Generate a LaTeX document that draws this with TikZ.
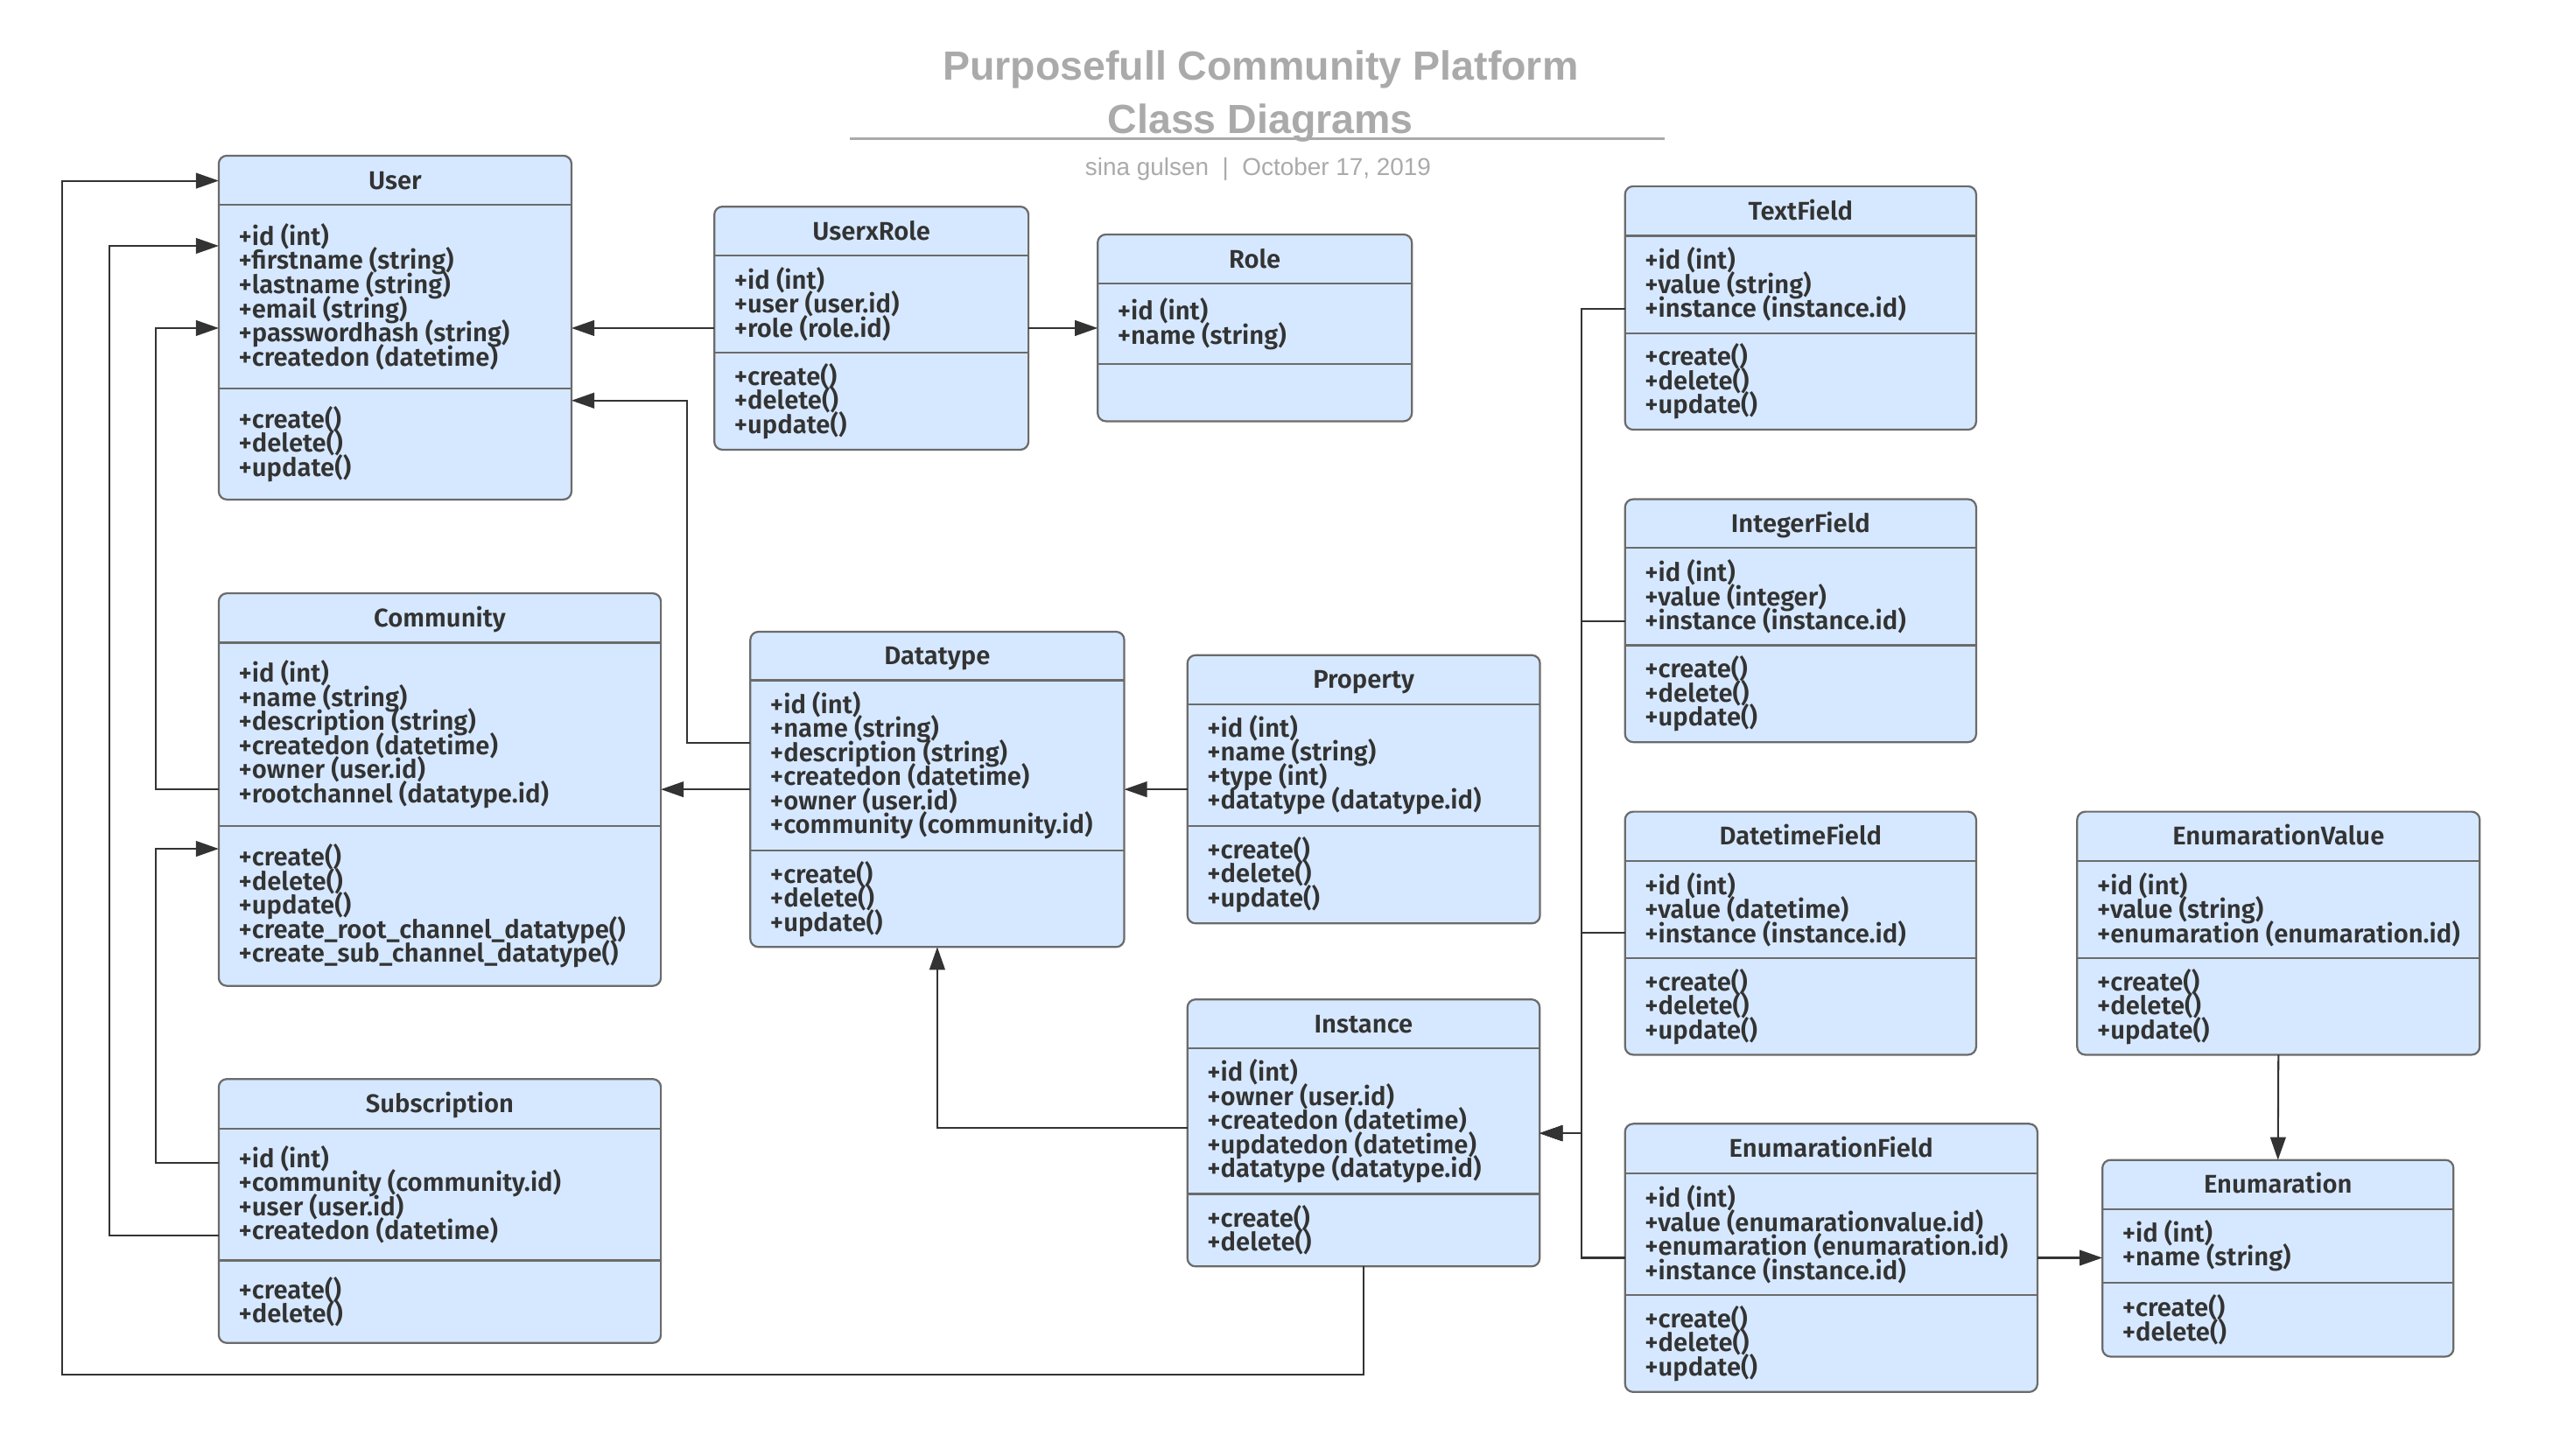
\documentclass[tikz,border=0pt]{standalone}
\usepackage{fontspec}
\usetikzlibrary{arrows.meta}
\newfontfamily\umlfont{Fira Sans}[UprightFont=* SemiBold]
\newfontfamily\hdrfont{Liberation Sans}
\definecolor{boxfill}{HTML}{D6E8FF}
\definecolor{boxline}{HTML}{6B6B6B}
\definecolor{connc}{HTML}{333333}
\definecolor{txt}{HTML}{333333}
\definecolor{hdrgray}{HTML}{AAAAAA}
% #1 name, #2 left, #3 top, #4 right, #5 header bottom, #6 divider, #7 bottom
\newcommand\umlbox[7]{%
  \node[classbox, minimum width={#4-#2}, minimum height={#7-#3}] (#1) at (#2,#3) {};
  \draw[divider] (#2,#5) -- (#4,#5);
  \draw[divider] (#2,#6) -- (#4,#6);
  \coordinate (#1-t) at ({(#2+#4)/2},{(#3+#5)/2});
  \coordinate (#1-a) at ({#2+12},{(#5+#6)/2});
  \coordinate (#1-m) at ({#2+12},{(#6+#7)/2});
}
\newcommand\umltext[4]{%
  \node[cname] (#1-title) at (#1-t) {#2};
  \node[ctext] (#1-attrs) at (#1-a) {#3};
  \node[ctext] (#1-meths) at (#1-m) {#4};
}
\begin{document}
\begin{tikzpicture}[x=1pt,y=-1pt,
  classbox/.style={draw=boxline, fill=boxfill, line width=1.2pt, rounded corners=5pt, inner sep=0pt, outer sep=0pt, anchor=north west},
  divider/.style={draw=boxline, line width=1.2pt},
  conn/.style={draw=connc, line width=1.1pt, -{Triangle[length=14pt,width=9.5pt]}},
  ctext/.style={anchor=west, align=left, inner sep=0pt, text=txt, font=\umlfont\fontsize{15.7}{14.8}\selectfont,
    execute at begin node={\lineskiplimit=-50pt\lineskip=0pt}},
  cname/.style={inner sep=0pt, text=txt, text height=10.8pt, text depth=0pt, font=\umlfont\fontsize{15.7}{14.8}\selectfont},
  hdr/.style={inner sep=0pt, anchor=base, text=hdrgray, font=\hdrfont\bfseries\fontsize{25}{30}\selectfont},
  sub/.style={inner sep=0pt, anchor=base, text=hdrgray, font=\hdrfont\fontsize{15}{18}\selectfont},
  rulestyle/.style={draw=hdrgray, line width=1.6pt}
]
\useasboundingbox (0,0) rectangle (1567.6,893.7);

% header
\node[hdr] (title1) at (774,49) {Purposefull Community Platform};
\node[hdr] (title2) at (774,82) {Class Diagrams};
\coordinate (ruleL) at (522,85.3);
\coordinate (ruleR) at (1022,85.3);
\draw[rulestyle] (ruleL) -- (ruleR);
\node[sub] (subtitle) at (772.5,108) {sina gulsen\ \ |\ \ October 17, 2019};

% boxes
\umlbox{user}{134.3}{95.6}{350.9}{125.8}{238.6}{306.8}
\umltext{user}{User}{+id (int)\\+firstname (string)\\+lastname (string)\\+email (string)\\+passwordhash (string)\\+createdon (datetime)}{+create()\\+delete()\\+update()}

\umlbox{uxr}{438.6}{126.9}{631.5}{157}{216.6}{276.2}
\umltext{uxr}{UserxRole}{+id (int)\\+user (user.id)\\+role (role.id)}{+create()\\+delete()\\+update()}

\umlbox{role}{674}{144}{866.9}{174.2}{223.7}{258.7}
\node[cname] (role-title) at (role-t) {Role};
\node[ctext] (role-attrs) at (role-a) {+id (int)\\+name (string)};

\umlbox{textf}{997.8}{114.4}{1213.4}{144.8}{204.7}{263.9}
\umltext{textf}{TextField}{+id (int)\\+value (string)\\+instance (instance.id)}{+create()\\+delete()\\+update()}

\umlbox{intf}{997.8}{306.6}{1213.4}{336.6}{396.3}{455.8}
\umltext{intf}{IntegerField}{+id (int)\\+value (integer)\\+instance (instance.id)}{+create()\\+delete()\\+update()}

\umlbox{dtf}{997.8}{498.5}{1213.4}{528.6}{588.5}{647.8}
\umltext{dtf}{DatetimeField}{+id (int)\\+value (datetime)\\+instance (instance.id)}{+create()\\+delete()\\+update()}

\umlbox{enumv}{1275.4}{498.5}{1522.6}{528.6}{588.5}{647.8}
\umltext{enumv}{EnumarationValue}{+id (int)\\+value (string)\\+enumaration (enumaration.id)}{+create()\\+delete()\\+update()}

\umlbox{comm}{134.3}{364.4}{405.8}{394.7}{507.3}{605.5}
\umltext{comm}{Community}{+id (int)\\+name (string)\\+description (string)\\+createdon (datetime)\\+owner (user.id)\\+rootchannel (datatype.id)}{+create()\\+delete()\\+update()\\+create\_root\_channel\_datatype()\\+create\_sub\_channel\_datatype()}

\umlbox{dtype}{460.7}{388}{690.3}{417.8}{522.5}{581.6}
\umltext{dtype}{Datatype}{+id (int)\\+name (string)\\+description (string)\\+createdon (datetime)\\+owner (user.id)\\+community (community.id)}{+create()\\+delete()\\+update()}

\umlbox{prop}{729.1}{402.4}{945.6}{432.5}{507.2}{567.1}
\umltext{prop}{Property}{+id (int)\\+name (string)\\+type (int)\\+datatype (datatype.id)}{+create()\\+delete()\\+update()}

\umlbox{inst}{729.1}{613.8}{945.4}{644}{733.3}{777.8}
\umltext{inst}{Instance}{+id (int)\\+owner (user.id)\\+createdon (datetime)\\+updatedon (datetime)\\+datatype (datatype.id)}{+create()\\+delete()}

\umlbox{subs}{134.3}{662.7}{405.8}{693.2}{774.1}{824.8}
\umltext{subs}{Subscription}{+id (int)\\+community (community.id)\\+user (user.id)\\+createdon (datetime)}{+create()\\+delete()}

\umlbox{enumf}{997.8}{690.2}{1251}{720.8}{795.3}{854.9}
\umltext{enumf}{EnumarationField}{+id (int)\\+value (enumarationvalue.id)\\+enumaration (enumaration.id)\\+instance (instance.id)}{+create()\\+delete()\\+update()}

\umlbox{enums}{1290.9}{712.4}{1506.5}{742.5}{787.7}{833.2}
\umltext{enums}{Enumaration}{+id (int)\\+name (string)}{+create()\\+delete()}

% connectors
\draw[conn] (uxr.west |- 0,201.5) -- (user.east |- 0,201.5);
\draw[conn] (uxr.east |- 0,201.5) -- (role.west |- 0,201.5);
\draw[conn] (dtype.west |- 0,456.5) -| (421.8,246) -- (user.east |- 0,246);
\draw[conn] (dtype.west |- 0,484.8) -- (comm.east |- 0,484.8);
\draw[conn] (comm.west |- 0,484.7) -| (95.6,201.5) -- (user.west |- 0,201.5);
\draw[conn] (subs.west |- 0,714.3) -| (95.6,521.3) -- (comm.west |- 0,521.3);
\draw[conn] (subs.west |- 0,758.9) -| (67.2,151) -- (user.west |- 0,151);
\draw[conn] (inst.south) |- (38.3,844) |- (user.west |- 0,111);
\draw[conn] (prop.west |- 0,484.8) -- (dtype.east |- 0,484.8);
\draw[conn] (inst.west |- 0,692.9) -| (dtype.south);
\draw[conn] (textf.west |- 0,189.5) -| (971,696) -- (inst.east |- 0,696);
\draw[conn] (intf.west |- 0,381.5) -| (971,696) -- (inst.east |- 0,696);
\draw[conn] (dtf.west |- 0,573) -| (971,696) -- (inst.east |- 0,696);
\draw[conn] (enumf.west |- 0,772.5) -| (971,696) -- (inst.east |- 0,696);
\draw[conn] (enumf.east |- 0,772.5) -- (enums.west |- 0,772.5);
\draw[conn] (enumv.south) -- (enums.north);
\end{tikzpicture}
\end{document}
